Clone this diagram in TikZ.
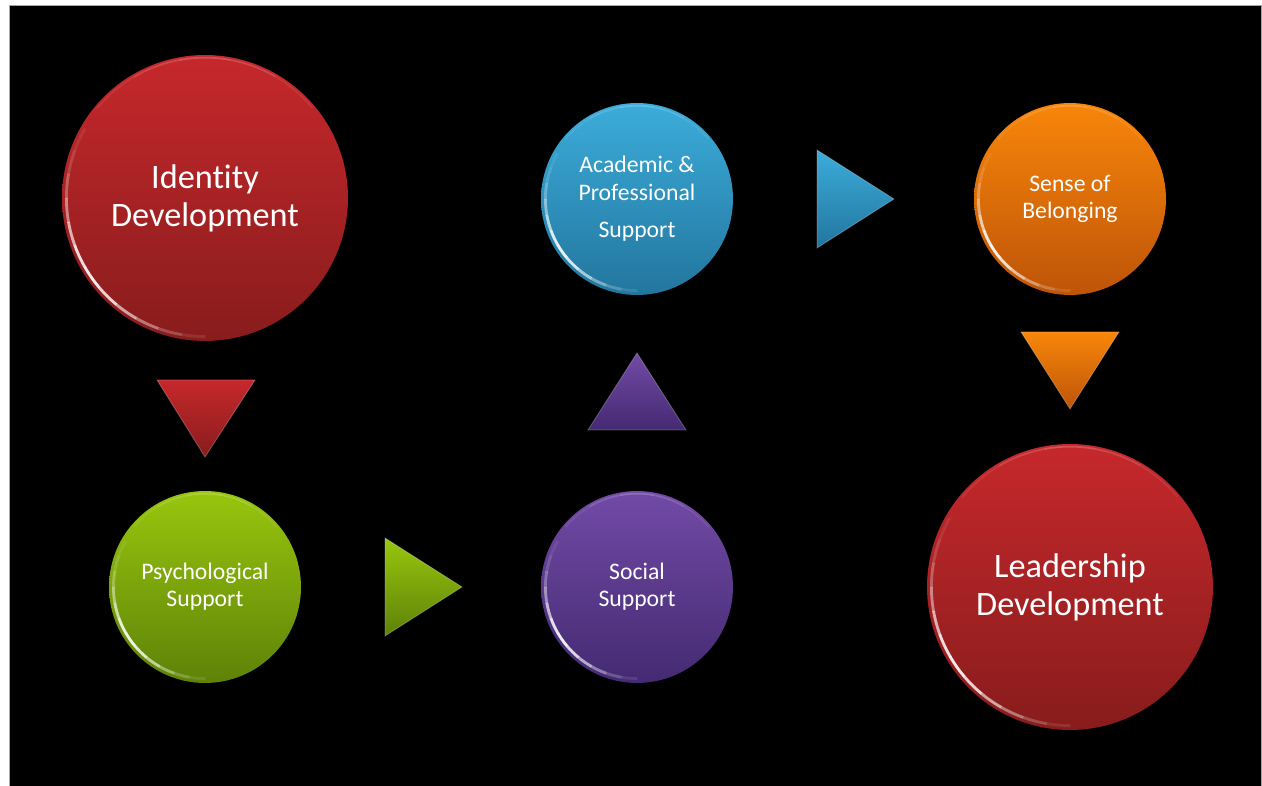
\documentclass[tikz,border=0pt]{standalone}
\usepackage{fontspec}
\setmainfont{Carlito}[Ligatures=NoCommon]
\definecolor{redtop}{RGB}{198,40,44}
\definecolor{redbot}{RGB}{136,28,28}
\definecolor{greentop}{RGB}{152,198,14}
\definecolor{greenbot}{RGB}{94,130,8}
\definecolor{bluetop}{RGB}{60,172,218}
\definecolor{bluebot}{RGB}{34,118,158}
\definecolor{purpletop}{RGB}{114,74,166}
\definecolor{purplebot}{RGB}{68,42,114}
\definecolor{orangetop}{RGB}{248,134,10}
\definecolor{orangebot}{RGB}{190,84,8}
\tikzset{
  bubble/.style={circle, inner sep=0pt, outer sep=0pt, text=white, align=center,
    font=\fontsize{13.5}{15.5}\selectfont},
  bigbubble/.style={bubble, minimum size=5.72cm, font=\fontsize{19.5}{21.5}\selectfont},
  smallbubble/.style={bubble, minimum size=3.84cm},
  glint/.style={white, line cap=butt},
  wedge/.style={draw=white, draw opacity=.25, line width=.5pt},
}
% light on the rim of a bubble: node name, radius
\newcommand{\rimlight}[2]{%
  \foreach \a/\o in {150/.08,160/.15,170/.28,180/.45,190/.65,200/.85,210/.9,220/.8,230/.6,240/.4,250/.22,260/.1}{
    \draw[glint, line width=1.6pt, opacity=\o] ([shift={(\a+180:2.5pt)}]#1.\a) arc[start angle=\a, end angle=\a+10.2, radius=#2-2.5pt];
  }
  \foreach \a/\o in {40/.08,60/.15,80/.2,100/.15,120/.08}{
    \draw[glint, line width=1pt, opacity=\o] ([shift={(\a+180:1.5pt)}]#1.\a) arc[start angle=\a, end angle=\a+20.2, radius=#2-1.5pt];
  }
}
\begin{document}
\begin{tikzpicture}[x=0.02cm, y=-0.02cm]
  \useasboundingbox (0,0) rectangle (1262,786);
  \fill[black, draw=gray!70, line width=.4pt] (9,5) rectangle (1261,786);

  % bubbles
  \node[bigbubble, top color=redtop, bottom color=redbot] (identity) at (205,198) {Identity\\Development};
  \node[smallbubble, top color=greentop, bottom color=greenbot] (psych) at (205,587) {Psychological\\Support};
  \node[smallbubble, top color=purpletop, bottom color=purplebot] (social) at (637,587) {Social\\Support};
  \node[smallbubble, top color=bluetop, bottom color=bluebot] (academic) at (637,199) {Academic \&\\Professional\\[6pt]Support};
  \node[smallbubble, top color=orangetop, bottom color=orangebot] (belonging) at (1070,199) {Sense of\\Belonging};
  \node[bigbubble, top color=redtop, bottom color=redbot] (leadership) at (1070,587) {Leadership\\Development};

  \rimlight{identity}{2.86cm}
  \rimlight{psych}{1.92cm}
  \rimlight{social}{1.92cm}
  \rimlight{academic}{1.92cm}
  \rimlight{belonging}{1.92cm}
  \rimlight{leadership}{2.86cm}

  % arrows between the bubbles
  \shade[wedge, top color=redtop, bottom color=redbot] (157,380) -- (255,380) -- (205,457) -- cycle;
  \shade[wedge, top color=greentop, bottom color=greenbot] (385,538) -- (462,587) -- (385,636) -- cycle;
  \shade[wedge, top color=purpletop, bottom color=purplebot] (588,430) -- (637,353) -- (686,430) -- cycle;
  \shade[wedge, top color=bluetop, bottom color=bluebot] (817,150) -- (894,199) -- (817,248) -- cycle;
  \shade[wedge, top color=orangetop, bottom color=orangebot] (1021,332) -- (1119,332) -- (1070,409) -- cycle;
\end{tikzpicture}
\end{document}
